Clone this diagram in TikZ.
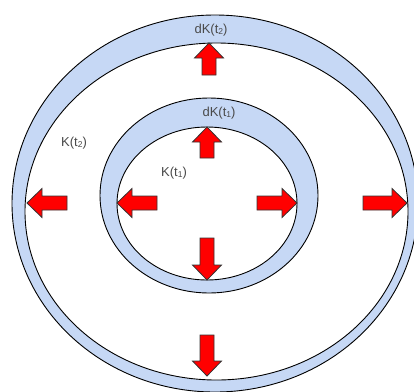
\documentclass[tikz,border=0pt]{standalone}
\usepackage{fontspec}
\setmainfont{Liberation Sans}
\definecolor{bandblue}{HTML}{C6D8F5}
\definecolor{arrred}{HTML}{FF0000}
\definecolor{txtgrey}{HTML}{4A4A4A}
\tikzset{
  band/.style={draw=black, line width=0.9pt, fill=bandblue},
  hole/.style={draw=black, line width=0.9pt, fill=white},
  lbl/.style={text=txtgrey, font=\fontsize{13}{15}\selectfont, inner sep=0pt},
  pics/redarrow/.style={code={
    \draw[fill=arrred, draw=black!80, line width=0.8pt, line join=miter]
      (0,0) -- (-15,14.5) -- (-15,7) -- (-#1,7) -- (-#1,-7) -- (-15,-7) -- (-15,-14.5) -- cycle;
  }}
}
\newcommand{\sbs}[1]{\raisebox{-0.2ex}{\fontsize{8.5}{9}\selectfont #1}}
\begin{document}
\begin{tikzpicture}[x=1pt,y=-1pt]
\useasboundingbox (0,0) rectangle (414,391);
\begin{scope}
\clip (0,0) rectangle (414,391);
% outer ring
\path[band] (215,203.5) ellipse [x radius=203, y radius=188.5];
\path[hole] (216.5,211.5) ellipse [x radius=191.5, y radius=168.5];
% inner ring
\path[band] (209,195.5) ellipse [x radius=109, y radius=97.5];
\path[hole] (207,203.5) ellipse [x radius=90, y radius=76.5];
\end{scope}
% labels
\node[lbl] (dk2) at (211,30) {dK(t\sbs{2})};
\node[lbl] (dk1) at (219,113) {dK(t\sbs{1})};
\node[lbl] (k2) at (74,143) {K(t\sbs{2})};
\node[lbl] (k1) at (174,173) {K(t\sbs{1})};
% arrows
\pic[rotate=90] at (209,43) {redarrow=32};
\pic[rotate=90] at (207,127) {redarrow=31};
\pic[rotate=180] at (27,203) {redarrow=40};
\pic[rotate=180] at (117,203) {redarrow=40};
\pic at (297,203) {redarrow=40};
\pic at (407,203) {redarrow=44};
\pic[rotate=-90] at (207,280) {redarrow=42};
\pic[rotate=-90] at (207,376) {redarrow=41};
\end{tikzpicture}
\end{document}
